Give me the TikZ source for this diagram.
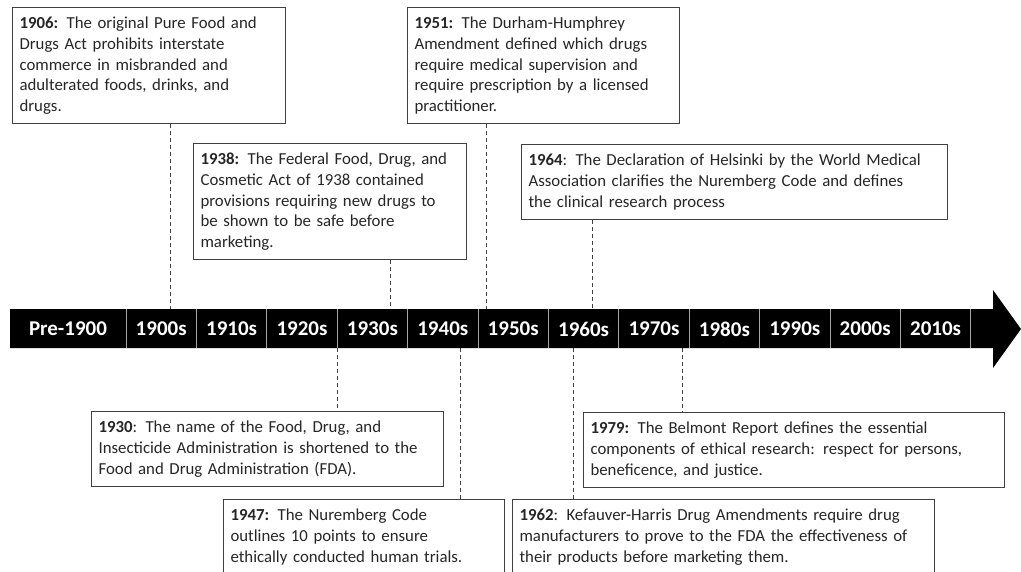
\documentclass[tikz,border=0pt]{standalone}
\usepackage{fontspec}
\setmainfont{Carlito}
\begin{document}
\begin{tikzpicture}[x=1pt, y=-1pt,
  event/.style={draw=black!75, line width=1.1pt, fill=white, anchor=north west, align=left,
    inner xsep=7pt, inner ysep=9.5pt, font=\fontsize{16.8}{20.7}\selectfont, text=black!85},
  guide/.style={draw=black!75, line width=1pt, dash pattern=on 4pt off 3pt},
  decade/.style={text=white, font=\fontsize{21}{24}\selectfont\bfseries}]
\useasboundingbox (0,0) rectangle (1021,571);
\clip (0,0) rectangle (1021,571);
% Zeitstrahl
\fill (10,309) -- (993,309) -- (993,290) -- (1021,329) -- (993,368) -- (993,348) -- (10,348) -- cycle;
\foreach \i in {0,...,12}
  \draw[gray!70, line width=1pt] (126+70.4*\i,309) -- (126+70.4*\i,348);
% Jahrzehnte
\node[decade] (pre) at (68,329) {Pre-1900};
\foreach \d [count=\i from 0] in {1900,1910,...,2010}
  \node[decade] (d\d) at (161.2+70.4*\i,329) {\d s};
% Ereignisse oben
\node[event, text width=259pt] (e1906) at (12,7)
  {\textbf{1906:} The original Pure Food and\\ Drugs Act prohibits interstate\\ commerce in misbranded and\\ adulterated foods, drinks, and\\ drugs.};
\node[event, text width=259pt] (e1938) at (193,143)
  {\textbf{1938:} The Federal Food, Drug, and\\ Cosmetic Act of 1938 contained\\ provisions requiring new drugs to\\ be shown to be safe before\\ marketing.};
\node[event, text width=258pt] (e1951) at (407,7)
  {\textbf{1951:} The Durham-Humphrey\\ Amendment defined which drugs\\ require medical supervision and\\ require prescription by a licensed\\ practitioner.};
\node[event, text width=412pt] (e1964) at (521,144)
  {\textbf{1964}: The Declaration of Helsinki by the World Medical\\ Association clarifies the Nuremberg Code and defines\\ the clinical research process};
% Ereignisse unten
\node[event, text width=338pt] (e1930) at (91,411)
  {\textbf{1930}: The name of the Food, Drug, and\\ Insecticide Administration is shortened to the\\ Food and Drug Administration (FDA).};
\node[event, text width=267pt] (e1947) at (223,499)
  {\textbf{1947:} The Nuremberg Code\\ outlines 10 points to ensure\\ ethically conducted human trials.};
\node[event, text width=407pt] (e1979) at (583,412)
  {\textbf{1979:} The Belmont Report defines the essential\\ components of ethical research: respect for persons,\\ beneficence, and justice.};
\node[event, text width=408pt] (e1962) at (512,499)
  {\textbf{1962}: Kefauver-Harris Drug Amendments require drug\\ manufacturers to prove to the FDA the effectiveness of\\ their products before marketing them.};
% Anschlusspunkte
\coordinate (t1906) at (170,309);
\coordinate (t1938) at (390,309);
\coordinate (t1951) at (486,309);
\coordinate (t1964) at (592,309);
\coordinate (b1930) at (337,348);
\coordinate (b1947) at (460,348);
\coordinate (b1962) at (573,348);
\coordinate (b1979) at (682,348);
% Linien
\draw[guide] (e1906.south -| t1906) -- (t1906);
\draw[guide] (e1938.south -| t1938) -- (t1938);
\draw[guide] (e1951.south -| t1951) -- (t1951);
\draw[guide] (e1964.south -| t1964) -- (t1964);
\draw[guide] (b1930) -- (e1930.north -| b1930);
\draw[guide] (b1947) -- (e1947.north -| b1947);
\draw[guide] (b1962) -- (e1962.north -| b1962);
\draw[guide] (b1979) -- (e1979.north -| b1979);
\end{tikzpicture}
\end{document}
